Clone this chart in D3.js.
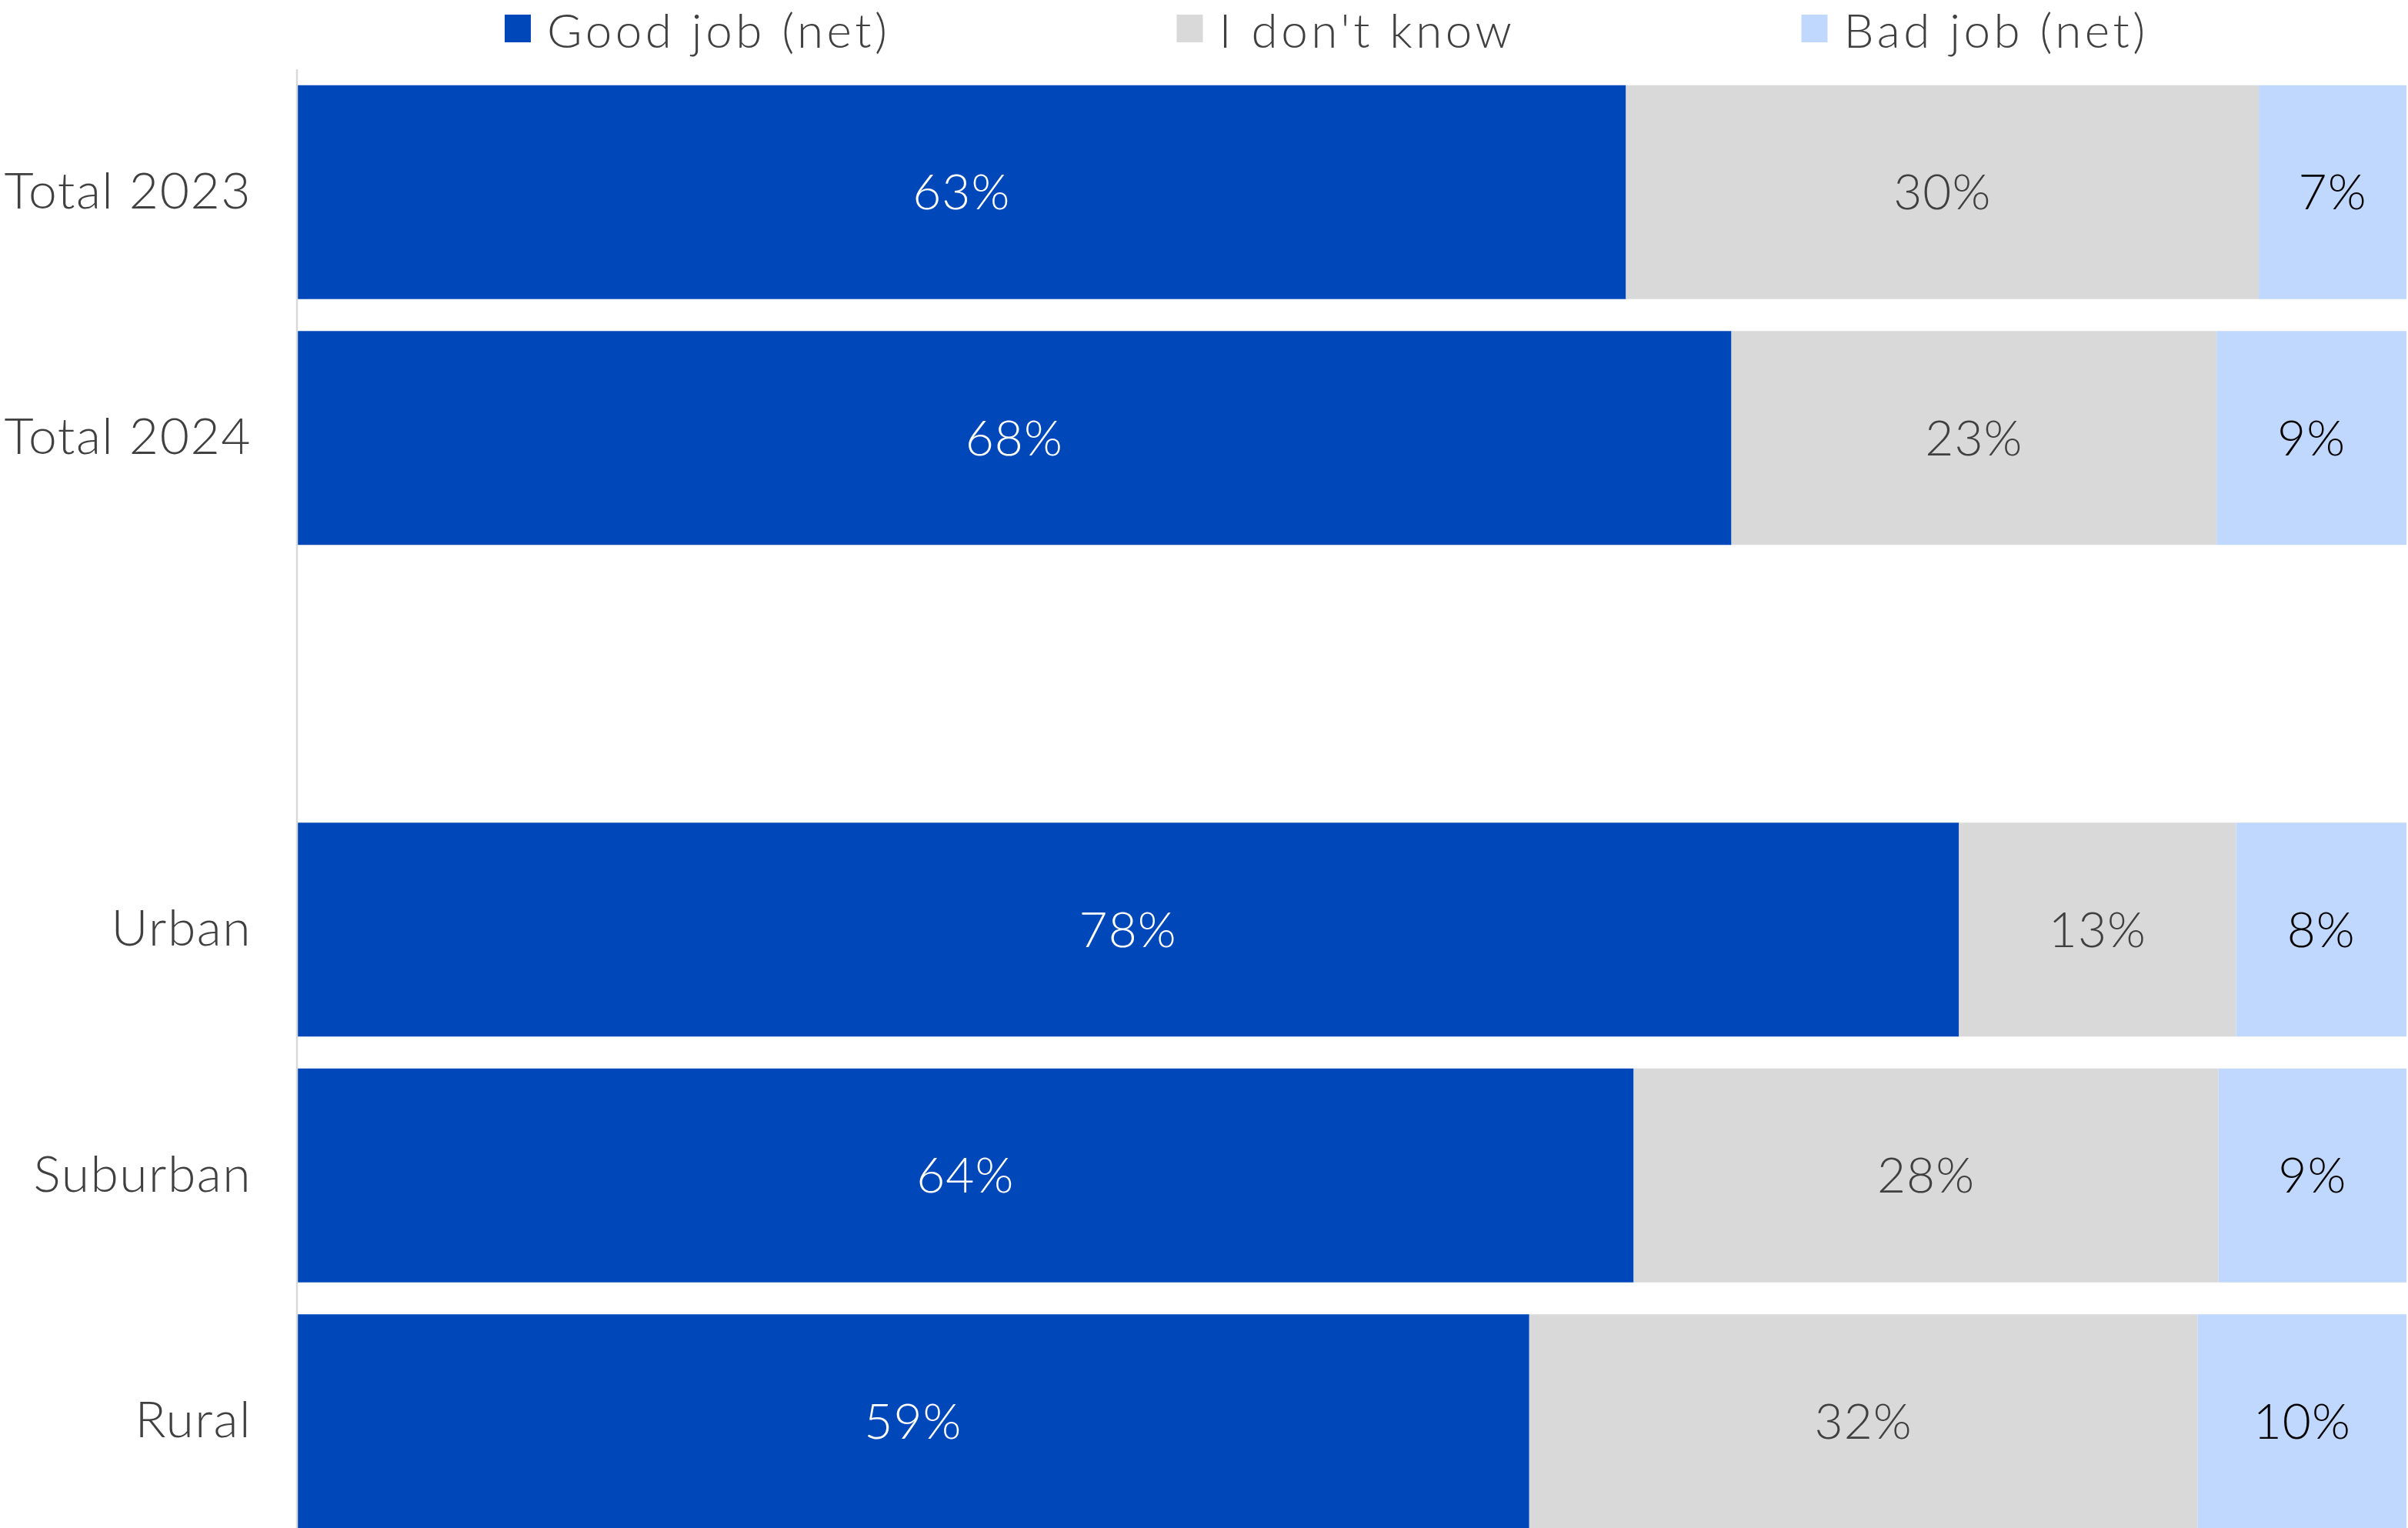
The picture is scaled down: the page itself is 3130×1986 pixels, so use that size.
<!DOCTYPE html>
<html>
<head>
<meta charset="utf-8">
<script src="https://cdn.jsdelivr.net/npm/d3@7"></script>
<style>
  html, body { margin: 0; padding: 0; background: #fff; }
  svg { display: block; }
  text { font-family: Lato, "Open Sans", "Noto Sans", sans-serif; font-weight: 300; }
</style>
</head>
<body>
<svg id="chart" width="3130" height="1986"></svg>
<script>
// Survey rows (an empty label leaves a spacer band between the totals and the area breakdown)
const categories = ["Total 2023", "Total 2024", "", "Urban", "Suburban", "Rural"];
const seriesNames = ["Good job (net)", "I don't know", "Bad job (net)"];
const goodJob  = [63, 68, null, 78, 64, 59];
const dontKnow = [30, 23, null, 13, 28, 32];
const badJob   = [7, 9, null, 8, 9, 10];

const colors = ["#0047BA", "#D9D9D9", "#C0D7FE"];
const labelColors = ["#FFFFFF", "#404040", "#000000"];

const W = 3130, H = 1986;
const margin = { left: 386, right: 2, top: 90, bottom: -21 };

const svg = d3.select("#chart");

const rows = categories.map((c, i) => ({
  cat: c, k0: goodJob[i], k1: dontKnow[i], k2: badJob[i]
})).filter(d => d.cat !== "");

const keys = ["k0", "k1", "k2"];
// Each bar is shown as shares of its own total
const stacked = d3.stack().keys(keys).offset(d3.stackOffsetExpand)(rows);

const x = d3.scaleLinear().domain([0, 1]).range([margin.left, W - margin.right]);
const y = d3.scaleBand().domain(categories).range([margin.top, H - margin.bottom])
  .paddingInner(0.13).paddingOuter(0.065);

// Bars with centred value labels
stacked.forEach((layer, si) => {
  const g = svg.append("g");
  g.selectAll("rect").data(layer).join("rect")
    .attr("x", d => x(d[0]))
    .attr("y", d => y(d.data.cat))
    .attr("width", d => x(d[1]) - x(d[0]))
    .attr("height", y.bandwidth())
    .attr("fill", colors[si]);
  g.selectAll("text").data(layer).join("text")
    .attr("x", d => (x(d[0]) + x(d[1])) / 2)
    .attr("y", d => y(d.data.cat) + y.bandwidth() / 2)
    .attr("dy", "0.35em")
    .attr("text-anchor", "middle")
    .attr("font-size", 64)
    .attr("letter-spacing", 1)
    .attr("fill", labelColors[si])
    .text(d => d.data[keys[si]] + "%");
});

// Category axis
const yAxis = svg.append("g")
  .attr("transform", `translate(${margin.left},0)`)
  .call(d3.axisLeft(y).tickSize(0).tickPadding(59));
yAxis.select(".domain").attr("stroke", "#D9D9D9").attr("stroke-width", 2.5)
  .attr("d", `M0,${margin.top}V${H}`);
yAxis.selectAll(".tick text")
  .attr("font-size", 66)
  .attr("letter-spacing", 1.5)
  .attr("font-family", "Lato, 'Open Sans', sans-serif")
  .attr("fill", "#404040");

// Legend
const legend = svg.append("g");
const items = legend.selectAll("g").data(seriesNames).join("g");
items.append("rect").attr("width", 34).attr("height", 36).attr("y", 19)
  .attr("fill", (d, i) => colors[i]);
items.append("text").attr("x", 55).attr("y", 62)
  .attr("font-size", 62).attr("letter-spacing", 4.5)
  .attr("fill", "#404040").text(d => d);
const widths = [];
items.each(function () { widths.push(this.getBBox().width); });
const gap = 372;
let cursor = 656;
items.each(function (d, i) {
  d3.select(this).attr("transform", `translate(${cursor},0)`);
  cursor += widths[i] + gap;
});
</script>
</body>
</html>
